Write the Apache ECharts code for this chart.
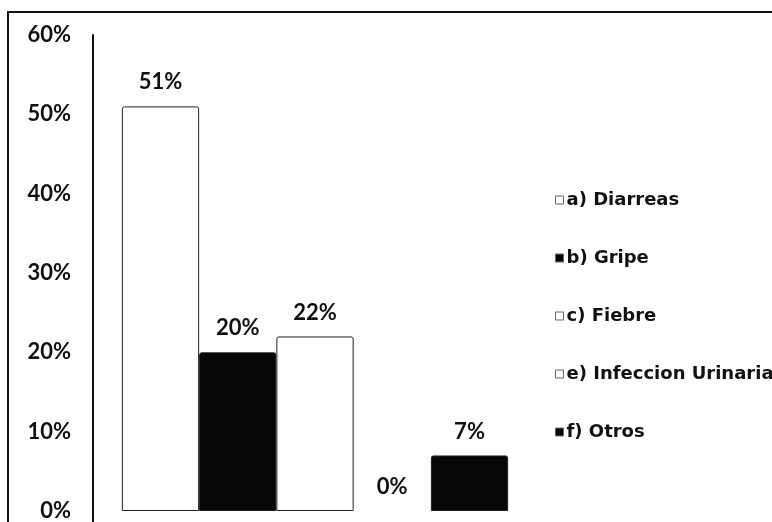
<!DOCTYPE html>
<html>
<head>
<meta charset="utf-8">
<script src="https://cdn.jsdelivr.net/npm/echarts@6/dist/echarts.min.js"></script>
<style>
html,body{margin:0;padding:0;background:#fff;}
#chart{width:772px;height:522px;}
</style>
</head>
<body>
<div id="chart"></div>
<script>
const seriesNames = ['a) Diarreas', 'b) Gripe', 'c) Fiebre', 'e) Infeccion Urinaria', 'f) Otros'];
const seriesValues = [51, 20, 22, 0, 7];
const seriesColors = ['#ffffff', '#060606', '#ffffff', '#ffffff', '#060606'];
const yTicks = [0, 10, 20, 30, 40, 50, 60];
const categories = [''];

const chart = echarts.init(document.getElementById('chart'));
const series = seriesNames.map((name, i) => ({
  name: name,
  type: 'bar',
  data: [{
    value: seriesValues[i],
    itemStyle: seriesValues[i] === 0 ? { borderWidth: 0 } : {}
  }],
  barGap: '0%',
  barCategoryGap: '13%',
  itemStyle: {
    color: seriesColors[i],
    borderColor: '#222',
    borderWidth: 1,
    borderRadius: [2, 2, 0, 0]
  },
  label: {
    show: true,
    position: 'top',
    distance: 13,
    formatter: '{c}%',
    fontFamily: 'Lato',
    fontWeight: 'bold',
    fontSize: 22,
    color: '#111'
  },
  emphasis: { disabled: true }
}));

chart.setOption({
  animation: false,
  backgroundColor: '#fff',
  grid: { left: 93, right: 235, top: 35, bottom: 10, containLabel: false },
  xAxis: {
    type: 'category',
    data: categories,
    axisLine: { show: false },
    axisTick: { show: false },
    axisLabel: { show: false },
    splitLine: { show: false }
  },
  yAxis: {
    type: 'value',
    min: yTicks[0],
    max: yTicks[yTicks.length - 1],
    interval: 10,
    axisLine: { show: true, lineStyle: { color: '#111', width: 2 } },
    axisTick: { show: false },
    splitLine: { show: false },
    axisLabel: {
      formatter: '{value}%',
      margin: 22,
      fontFamily: 'Lato',
      fontWeight: 'bold',
      fontSize: 22,
      color: '#111'
    }
  },
  legend: {
    orient: 'vertical',
    left: 550,
    top: 186,
    itemWidth: 8,
    itemHeight: 8,
    itemGap: 40,
    icon: 'rect',
    data: seriesNames.map((n, i) => ({
      name: n,
      itemStyle: { color: seriesColors[i], borderColor: '#666', borderWidth: 1 }
    })),
    textStyle: {
      fontFamily: 'DejaVu Sans',
      fontWeight: 'bold',
      fontSize: 18,
      color: '#111',
      padding: [0, 0, 0, -2]
    },
    selectedMode: false
  },
  graphic: [
    { type: 'rect', shape: { x: 8, y: 12, width: 820, height: 600 }, style: { fill: 'none', stroke: '#111', lineWidth: 2 }, silent: true },
    { type: 'line', shape: { x1: 93, y1: 510, x2: 93, y2: 522 }, style: { stroke: '#111', lineWidth: 2 }, silent: true }
  ],
  series: series
});
</script>
</body>
</html>
